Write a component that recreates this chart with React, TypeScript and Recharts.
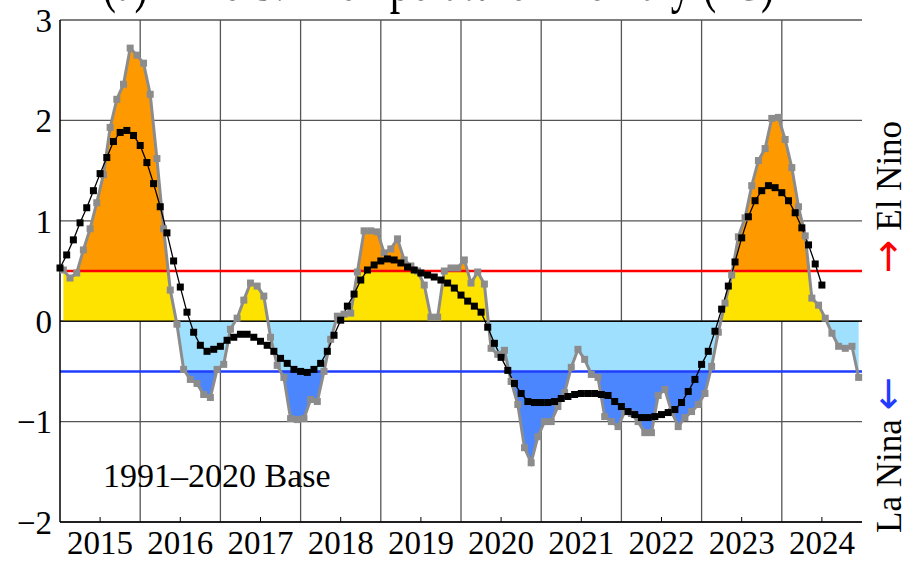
import React from 'react';
import { ComposedChart, Line, Area, XAxis, YAxis, CartesianGrid, ReferenceLine } from 'recharts';

const START_YEAR = 2015;
const END_YEAR = 2025;
const yearLabels = [2015, 2016, 2017, 2018, 2019, 2020, 2021, 2022, 2023, 2024];
const yearEdges = [2016, 2017, 2018, 2019, 2020, 2021, 2022, 2023, 2024];
const yTicks = [-2, -1, 0, 1, 2, 3];

// monthly anomaly (grey), Jan 2015 .. Dec 2024
const monthly = [
  0.51, 0.43, 0.48, 0.71, 0.92, 1.18, 1.46, 1.93, 2.21, 2.36, 2.72, 2.65,
  2.57, 2.26, 1.62, 0.92, 0.31, -0.03, -0.48, -0.58, -0.62, -0.73, -0.76, -0.48,
  -0.43, -0.08, 0.03, 0.21, 0.38, 0.35, 0.25, -0.16, -0.44, -0.56, -0.97, -0.98,
  -0.97, -0.78, -0.8, -0.5, -0.18, 0.05, 0.07, 0.08, 0.49, 0.9, 0.9, 0.89,
  0.68, 0.72, 0.82, 0.61, 0.55, 0.5, 0.36, 0.04, 0.04, 0.5, 0.53, 0.53,
  0.61, 0.38, 0.49, 0.37, -0.27, -0.33, -0.29, -0.6, -0.83, -1.26, -1.41, -1.15,
  -1.0, -1.0, -0.85, -0.71, -0.46, -0.28, -0.38, -0.53, -0.56, -0.95, -1.0, -1.05,
  -0.9, -0.92, -1.0, -1.11, -1.11, -0.74, -0.68, -0.9, -1.05, -0.96, -0.9, -0.83,
  -0.72, -0.45, -0.11, 0.18, 0.46, 0.84, 1.03, 1.35, 1.6, 1.72, 2.02, 2.03,
  1.81, 1.53, 1.14, 0.85, 0.23, 0.16, 0.03, -0.12, -0.25, -0.27, -0.25, -0.56,
];

// 12-month running mean (black), at month boundaries from Jan 2015
const runningMean = [
  0.53, 0.66, 0.81, 0.98, 1.13, 1.3, 1.47, 1.63, 1.79, 1.88, 1.9, 1.85,
  1.75, 1.58, 1.37, 1.14, 0.88, 0.6, 0.34, 0.09, -0.11, -0.24, -0.3, -0.28,
  -0.25, -0.19, -0.16, -0.13, -0.13, -0.16, -0.2, -0.24, -0.3, -0.37, -0.42, -0.48,
  -0.5, -0.51, -0.48, -0.42, -0.3, -0.14, 0.01, 0.15, 0.27, 0.41, 0.51, 0.56,
  0.6, 0.62, 0.61, 0.58, 0.54, 0.51, 0.48, 0.46, 0.44, 0.41, 0.38, 0.33,
  0.26, 0.2, 0.15, 0.09, -0.06, -0.22, -0.36, -0.49, -0.62, -0.72, -0.8, -0.81,
  -0.81, -0.81, -0.8, -0.77, -0.75, -0.73, -0.72, -0.72, -0.72, -0.73, -0.74, -0.8,
  -0.85, -0.9, -0.93, -0.96, -0.96, -0.95, -0.93, -0.91, -0.88, -0.81, -0.7, -0.58,
  -0.43, -0.3, -0.1, 0.12, 0.35, 0.59, 0.83, 1.04, 1.2, 1.3, 1.35, 1.33,
  1.28, 1.2, 1.08, 0.93, 0.76, 0.57, 0.36,
];

const grayData = monthly.map((v, i) => ({ t: START_YEAR + (i + 0.5) / 12, v }));
const blackData = runningMean.map((v, i) => ({ t: START_YEAR + i / 12, v }));
const midYears = yearLabels.map((y) => y + 0.5);

const FONT = "'Liberation Serif', 'Times New Roman', Times, serif";
const ARROW_FONT = "'DejaVu Sans', sans-serif";

// band colours for the filled area, split at +0.5 / 0 / -0.5
const vMax = Math.max(...monthly);
const vMin = Math.min(...monthly);
const frac = (t: number) => (vMax - t) / (vMax - vMin);
const e = 0.0016;
const bandColors = ['#ff9900', '#ffe300', '#a0e0ff', '#4b86ff'];
const bandEdges = [0.5, 0, -0.5];
const fillStops: { o: number; c: string }[] = [{ o: 0, c: bandColors[0] }];
bandEdges.forEach((t, i) => {
  const f = frac(t);
  fillStops.push(
    { o: f - e, c: bandColors[i] },
    { o: f - e, c: '#000' },
    { o: f + e, c: '#000' },
    { o: f + e, c: bandColors[i + 1] },
  );
});
fillStops.push({ o: 1, c: bandColors[3] });

const square = (color: string, size: number) => (props: any) => {
  const { cx, cy, index } = props;
  if (cx == null || cy == null) return <g key={index} />;
  return <rect key={index} x={cx - size / 2} y={cy - size / 2} width={size} height={size} fill={color} />;
};

const minus = (v: number) => (v < 0 ? `\u2212${Math.abs(v)}` : String(v));

// vertical grid at the year boundaries
const yearGrid = (p: any) => {
  const s = p?.xAxis?.scale;
  return yearEdges.map((y) =>
    typeof s === 'function'
      ? s(y)
      : p.offset.left + ((y - START_YEAR) / (END_YEAR - START_YEAR)) * p.offset.width,
  );
};

export default function App() {
  const tickStyle = { fontFamily: FONT, fontSize: 33, fill: '#000' };
  return (
    <div style={{ position: 'absolute', left: 0, top: 0, width: 909, height: 567, background: '#fff', overflow: 'hidden' }}>
      <ComposedChart width={909} height={567} margin={{ top: 20, right: 47, bottom: 0, left: 0 }}>
        <defs>
          <linearGradient id="ensoFill" x1="0" y1="0" x2="0" y2="1">
            {fillStops.map((s, i) => (
              <stop key={i} offset={s.o} stopColor={s.c} />
            ))}
          </linearGradient>
        </defs>
        <CartesianGrid stroke="#555" strokeWidth={1.3} verticalCoordinatesGenerator={yearGrid} />
        <ReferenceLine y={0.5} stroke="#ff0000" strokeWidth={2.5} />
        <ReferenceLine y={-0.5} stroke="#1f3cff" strokeWidth={2.5} />
        <Area
          data={grayData}
          dataKey="v"
          type="linear"
          baseValue={0}
          fill="url(#ensoFill)"
          fillOpacity={1}
          stroke="none"
          dot={false}
          activeDot={false}
          isAnimationActive={false}
        />
        <ReferenceLine y={0} stroke="#000" strokeWidth={1.2} />
        <Line
          data={grayData}
          dataKey="v"
          type="linear"
          stroke="#8c8c8c"
          strokeWidth={3}
          dot={square('#8c8c8c', 7)}
          activeDot={false}
          isAnimationActive={false}
        />
        <Line
          data={blackData}
          dataKey="v"
          type="linear"
          stroke="#000"
          strokeWidth={1.3}
          dot={square('#000', 7)}
          activeDot={false}
          isAnimationActive={false}
        />
        <XAxis
          dataKey="t"
          type="number"
          domain={[START_YEAR, END_YEAR]}
          ticks={midYears}
          tickFormatter={(t: number) => String(Math.floor(t))}
          interval={0}
          tick={tickStyle}
          tickSize={-5}
          tickMargin={14}
          height={45}
          axisLine={{ stroke: '#000', strokeWidth: 1.5 }}
          tickLine={{ stroke: '#000' }}
        />
        <XAxis
          xAxisId="top"
          orientation="top"
          dataKey="t"
          type="number"
          domain={[START_YEAR, END_YEAR]}
          ticks={midYears}
          tickFormatter={() => ''}
          interval={0}
          tickSize={-5}
          height={0}
          axisLine={{ stroke: '#000', strokeWidth: 1.5 }}
          tickLine={{ stroke: '#000' }}
        />
        <YAxis
          type="number"
          domain={[-2, 3]}
          ticks={yTicks}
          tickFormatter={minus}
          interval={0}
          tick={tickStyle}
          tickSize={0}
          tickMargin={8}
          width={60}
          axisLine={{ stroke: '#000', strokeWidth: 1.5 }}
        />
        <YAxis
          yAxisId="r"
          orientation="right"
          type="number"
          domain={[-2, 3]}
          ticks={yTicks}
          tick={false}
          tickLine={false}
          width={0}
          axisLine={{ stroke: '#000', strokeWidth: 1.5 }}
        />
      </ComposedChart>
      <svg width={909} height={567} style={{ position: 'absolute', left: 0, top: 0, pointerEvents: 'none' }}>
        <text x={102} y={0} transform="scale(1 1.5)" fontFamily={FONT} fontSize={42} fill="#000">
          (a) Niño 3.4 Temperature Anomaly (°C)
        </text>
        <text x={103} y={487} fontFamily={FONT} fontSize={34} fill="#000">
          1991–2020 Base
        </text>
        <text x={901} y={533} transform="rotate(-90 901 533)" fontFamily={FONT} fontSize={35} fill="#000">
          La Nina{' '}
          <tspan fill="#1f3cff" fontFamily={ARROW_FONT} fontSize={40}>
            ←
          </tspan>
        </text>
        <text x={901} y={273} transform="rotate(-90 901 273)" fontFamily={FONT} fontSize={35} fill="#000">
          <tspan fill="#ff0000" fontFamily={ARROW_FONT} fontSize={40}>
            →
          </tspan>{' '}
          El Nino
        </text>
      </svg>
    </div>
  );
}
